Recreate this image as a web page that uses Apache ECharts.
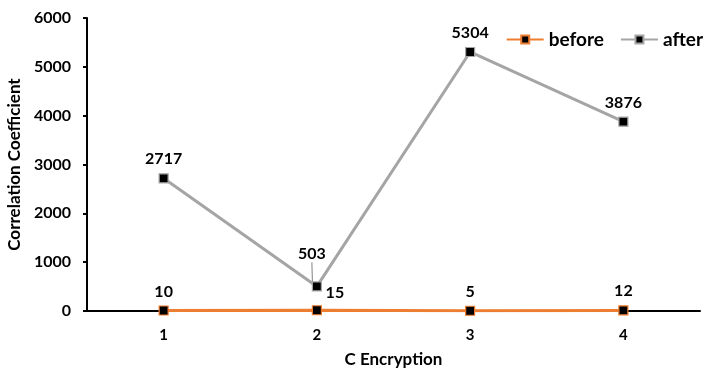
<!DOCTYPE html>
<html>
<head>
<meta charset="utf-8">
<script src="https://cdn.jsdelivr.net/npm/echarts@6/dist/echarts.min.js"></script>
<style>
  html, body { margin: 0; padding: 0; background: #fff; }
  #chart { width: 708px; height: 370px; }
</style>
</head>
<body>
<div id="chart"></div>
<script>
// Encryption rounds on the x axis
const categories = ['1', '2', '3', '4'];
// Correlation coefficient before and after encryption
const beforeValues = [10, 15, 5, 12];
const afterValues = [2717, 503, 5304, 3876];
const yTicks = { min: 0, max: 6000, interval: 1000 };

const FONT = 'Lato, "Open Sans", sans-serif';
const labelStyle = { show: true, position: 'top', distance: 6, color: '#000', fontFamily: FONT, fontWeight: 'bold', fontSize: 16 };

// Only the crowded point in the middle gets a leader line to its label
const afterData = afterValues.map((v, i) => (i === 1
  ? { value: v, labelLine: { show: true, length2: 0, lineStyle: { color: '#7f7f7f', width: 1 } } }
  : { value: v, labelLine: { show: false } }));

const chart = echarts.init(document.getElementById('chart'), null, { renderer: 'canvas' });
chart.setOption({
  animation: false,
  grid: { left: 87, right: 8, top: 18, bottom: 59, containLabel: false, outerBoundsMode: 'none' },
  legend: {
    right: 0, top: 25,
    itemWidth: 37, itemHeight: 10, itemGap: 16,
    textStyle: { fontFamily: FONT, fontWeight: 'bold', fontSize: 19, color: '#000' },
    data: ['before', 'after']
  },
  xAxis: {
    type: 'category',
    data: categories,
    boundaryGap: true,
    name: 'C Encryption', nameLocation: 'middle', nameGap: 40,
    nameTextStyle: { fontFamily: FONT, fontWeight: 'bold', fontSize: 17, color: '#000' },
    axisLine: { lineStyle: { color: '#000', width: 2 } },
    axisTick: { show: false },
    axisLabel: { margin: 17, color: '#000', fontFamily: FONT, fontWeight: 'bold', fontSize: 15 },
    splitLine: { show: false }
  },
  yAxis: {
    type: 'value',
    min: yTicks.min, max: yTicks.max, interval: yTicks.interval,
    name: 'Correlation Coefficient', nameLocation: 'middle', nameGap: 56,
    nameTextStyle: { fontFamily: FONT, fontWeight: 'bold', fontSize: 17, color: '#000' },
    axisLine: { show: true, lineStyle: { color: '#000', width: 2 } },
    axisTick: { show: true, inside: false, length: 4, lineStyle: { color: '#000', width: 2 } },
    axisLabel: { margin: 16, color: '#000', fontFamily: FONT, fontWeight: 'bold', fontSize: 16,
                 formatter: v => String(v) },
    splitLine: { show: false }
  },
  series: [
    {
      name: 'before', type: 'line',
      data: beforeValues,
      symbol: 'rect', symbolSize: 9,
      lineStyle: { color: '#ED7D31', width: 3 },
      itemStyle: { color: '#000', borderColor: '#ED7D31', borderWidth: 1.2 },
      label: labelStyle,
      labelLayout: p => (p.dataIndex === 1 ? { dx: 18, dy: 2 } : {}),
      z: 3
    },
    {
      name: 'after', type: 'line',
      data: afterData,
      symbol: 'rect', symbolSize: 9,
      lineStyle: { color: '#A5A5A5', width: 3 },
      itemStyle: { color: '#000', borderColor: '#A5A5A5', borderWidth: 1.2 },
      label: labelStyle,
      labelLayout: p => (p.dataIndex === 1 ? { dx: -5, dy: -13 } : {}),
      z: 2
    }
  ]
});
</script>
</body>
</html>
